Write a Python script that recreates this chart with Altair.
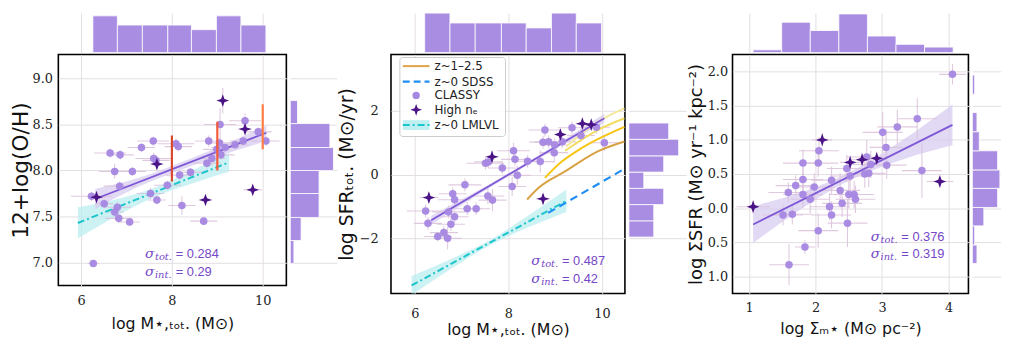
import altair as alt
import pandas as pd

# ---------------- Panel 1: 12+log(O/H) vs log M* ----------------
p1_cx = [6.27, 6.23, 6.51, 6.80, 6.74, 6.83, 7.07, 6.64, 6.86, 6.74, 7.13, 6.85, 7.33, 7.59, 7.60, 7.65, 7.53, 7.67, 7.90,
         8.09, 8.14, 8.17, 8.41, 8.22, 8.70, 8.77, 8.81, 8.88, 8.99, 9.05, 9.08, 9.06, 9.17, 9.39, 9.57, 9.61, 9.90, 10.07]
p1_cy = [6.99, 7.72, 7.64, 7.60, 7.55, 7.48, 7.44, 8.19, 8.17, 7.99, 7.99, 7.83, 8.25, 8.32, 8.13, 8.11, 7.75, 7.68, 7.84,
         8.29, 8.26, 7.95, 7.98, 7.62, 7.45, 8.08, 8.32, 8.13, 8.23, 8.30, 8.17, 8.50, 8.25, 8.28, 8.32, 8.54, 8.42, 8.32]
p1_cxe = [0.12, 0.45, 0.20, 0.30, 0.20, 0.30, 0.22, 0.35, 0.30, 0.35, 0.30, 0.35, 0.30, 0.35, 0.40, 0.30, 0.30, 0.20, 0.30,
          0.40, 0.30, 0.30, 0.30, 0.30, 0.30, 0.30, 0.30, 0.30, 0.30, 0.30, 0.30, 0.35, 0.30, 0.30, 0.30, 0.35, 0.30, 0.30]
p1_cye = [0.02, 0.05, 0.05, 0.06, 0.05, 0.05, 0.04, 0.05, 0.05, 0.08, 0.05, 0.05, 0.05, 0.05, 0.06, 0.05, 0.06, 0.05, 0.05,
          0.06, 0.05, 0.05, 0.05, 0.10, 0.04, 0.06, 0.06, 0.08, 0.05, 0.05, 0.05, 0.18, 0.05, 0.05, 0.05, 0.08, 0.05, 0.05]
p1_sx = [6.34, 7.67, 8.74, 9.12, 9.61, 9.78]
p1_sy = [7.71, 8.07, 7.68, 8.76, 8.45, 7.79]
p1_sxe = [0.20, 0.15, 0.15, 0.10, 0.15, 0.20]
p1_sye = [0.05, 0.05, 0.05, 0.14, 0.05, 0.04]
p1_fit_x = [6.31, 10.08]
p1_fit_y = [7.69, 8.41]
p1_band_x = [6.31, 7.2, 8.0, 9.0, 10.08]
p1_band_lo = [7.58, 7.81, 7.97, 8.15, 8.32]
p1_band_hi = [7.80, 7.91, 8.05, 8.25, 8.49]
p1_lml_x = [5.93, 9.26]
p1_lml_y = [7.43, 8.09]
p1_lmlb_x = [5.93, 6.8, 7.6, 8.4, 9.26]
p1_lmlb_lo = [7.26, 7.51, 7.71, 7.85, 7.99]
p1_lmlb_hi = [7.60, 7.69, 7.81, 7.99, 8.19]
p1_seg_x = [8.0, 9.0, 10.0]
p1_seg_lo = [7.88, 8.00, 8.23]
p1_seg_hi = [8.38, 8.53, 8.72]
p1_seg_col = ["#d9472c", "#f25b3a", "#ff7d45"]
p1_top_edges = [6.26, 6.80, 7.35, 7.91, 8.43, 8.98, 9.52, 10.07]
p1_top_counts = [8, 6, 6, 6, 5, 8, 6]
p1_right_edges = [6.99, 7.24, 7.49, 7.75, 8.00, 8.25, 8.51, 8.76]
p1_right_counts = [1, 3, 8, 8, 12, 11, 2]

# ---------------- Panel 2: SFR vs log M* ----------------
p2_cx = [6.23, 6.28, 6.49, 6.62, 6.70, 6.77, 6.72, 6.85, 6.81, 6.85, 7.07, 7.12, 7.31, 7.51, 7.57, 7.56, 7.66, 7.87,
         8.11, 8.14, 8.08, 8.19, 8.41, 8.68, 8.78, 8.74, 8.86, 8.98, 8.99, 9.15, 9.36, 9.55, 9.88, 10.05]
p2_cy = [-1.14, -1.53, -1.94, -1.82, -2.00, -1.56, -1.17, -1.32, -0.60, -0.79, -0.32, -1.07, -1.07, 0.36, 0.40, -0.67, -0.80, 0.21,
         0.75, 0.48, -0.37, -0.02, 0.42, 0.41, 1.40, 1.02, 1.03, 0.69, 0.93, 1.03, 1.47, 1.23, 1.49, 1.00]
p2_cxe = [0.40, 0.30, 0.30, 0.30, 0.30, 0.30, 0.35, 0.30, 0.30, 0.35, 0.35, 0.30, 0.30, 0.40, 0.30, 0.35, 0.30, 0.30,
          0.35, 0.30, 0.30, 0.30, 0.30, 0.30, 0.35, 0.30, 0.30, 0.30, 0.30, 0.30, 0.30, 0.30, 0.30, 0.30]
p2_cye = [0.20, 0.20, 0.15, 0.20, 0.35, 0.20, 0.20, 0.20, 0.20, 0.25, 0.20, 0.20, 0.20, 0.20, 0.20, 0.25, 0.35, 0.20,
          0.25, 0.20, 0.30, 0.30, 0.20, 0.35, 0.20, 0.20, 0.20, 0.30, 0.20, 0.20, 0.20, 0.20, 0.20, 0.25]
p2_sx = [6.30, 7.65, 8.74, 9.11, 9.58, 9.77]
p2_sy = [-0.72, 0.56, -0.76, 1.26, 1.60, 1.57]
p2_sxe = [0.20, 0.15, 0.15, 0.10, 0.15, 0.20]
p2_sye = [0.15, 0.20, 0.15, 0.15, 0.10, 0.10]
p2_fit_x = [6.35, 10.05]
p2_fit_y = [-1.43, 1.77]
p2_band_x = [6.35, 7.3, 8.2, 9.1, 10.05]
p2_band_lo = [-1.57, -0.68, 0.12, 0.88, 1.63]
p2_band_hi = [-1.29, -0.54, 0.22, 1.02, 1.91]
p2_lml_x = [5.93, 9.24]
p2_lml_y = [-3.48, -0.82]
p2_lmlb_x = [5.93, 6.8, 7.6, 8.4, 9.24]
p2_lmlb_lo = [-3.78, -2.93, -2.22, -1.67, -1.17]
p2_lmlb_hi = [-3.18, -2.63, -2.06, -1.31, -0.47]
p2_sdss_x = [8.85, 10.50]
p2_sdss_y = [-1.20, 0.20]
z12_a_x = [8.40, 8.64, 9.21, 9.91, 10.48]
z12_a_y = [-0.78, -0.42, 0.10, 0.73, 1.04]
z12_b_x = [8.78, 9.14, 9.56, 10.48]
z12_b_y = [-0.10, 0.41, 0.83, 1.50]
z12_c_x = [9.21, 9.91, 10.48]
z12_c_y = [0.75, 1.40, 1.77]
z12_d_x = [9.24, 9.91, 10.48]
z12_d_y = [0.88, 1.66, 2.08]
z12_cols = ["#d8a244", "#f8c414", "#f2dc62", "#f5e79a"]
p2_top_edges = [6.21, 6.75, 7.29, 7.85, 8.38, 8.92, 9.45, 9.99]
p2_top_counts = [8, 6, 6, 6, 5, 8, 6]
p2_right_edges = [-1.96, -1.45, -0.94, -0.43, 0.08, 0.59, 1.11, 1.62]
p2_right_counts = [5, 5, 7, 3, 7, 10, 8]
legend_labels = ["z~1\u20132.5", "z~0 SDSS", "CLASSY", "High n\u2091", "z~0 LMLVL"]

# ---------------- Panel 3: Sigma_SFR vs Sigma_M* ----------------
p3_cx = [4.06, 3.53, 3.23, 3.01, 3.06, 3.07, 3.60, 2.83, 2.77, 2.74, 2.80, 2.05, 2.04, 1.81, 1.81, 1.98, 1.70, 1.59, 1.81, 1.92,
         2.24, 2.37, 2.47, 2.52, 2.50, 2.58, 2.60, 2.40, 2.21, 2.24, 1.51, 1.65, 2.48, 2.04, 1.84, 1.60]
p3_cy = [1.96, 1.31, 1.19, 1.11, 0.89, 0.63, 0.55, 0.64, 0.75, 0.50, 0.51, 0.84, 0.66, 0.66, 0.42, 0.31, 0.33, 0.23, 0.20, 0.13,
         0.41, 0.26, 0.58, 0.47, 0.20, 0.20, 0.13, 0.07, 0.02, -0.10, -0.10, -0.09, -0.22, -0.33, -0.57, -0.83]
p3_cxe = [0.20, 0.30, 0.30, 0.30, 0.25, 0.30, 0.30, 0.30, 0.30, 0.30, 0.25, 0.30, 0.30, 0.30, 0.30, 0.30, 0.30, 0.30, 0.30, 0.30,
          0.30, 0.30, 0.30, 0.30, 0.30, 0.30, 0.30, 0.30, 0.30, 0.30, 0.30, 0.30, 0.30, 0.30, 0.15, 0.30]
p3_cye = [0.15, 0.30, 0.25, 0.30, 0.25, 0.20, 0.40, 0.20, 0.25, 0.20, 0.20, 0.20, 0.20, 0.20, 0.20, 0.20, 0.15, 0.15, 0.20, 0.20,
          0.20, 0.25, 0.20, 0.20, 0.20, 0.20, 0.20, 0.20, 0.20, 0.20, 0.15, 0.15, 0.35, 0.25, 0.10, 0.30]
p3_sx = [1.06, 2.10, 2.52, 2.70, 2.92, 3.87]
p3_sy = [0.02, 1.00, 0.67, 0.71, 0.73, 0.39]
p3_sxe = [0.25, 0.15, 0.15, 0.15, 0.15, 0.20]
p3_sye = [0.10, 0.10, 0.10, 0.10, 0.10, 0.10]
p3_fit_x = [1.06, 4.06]
p3_fit_y = [-0.24, 1.22]
p3_band_x = [1.06, 1.8, 2.5, 3.3, 4.06]
p3_band_lo = [-0.51, 0.00, 0.40, 0.71, 0.92]
p3_band_hi = [0.03, 0.24, 0.52, 0.99, 1.52]
p3_top_edges = [1.06, 1.49, 1.92, 2.35, 2.78, 3.21, 3.64, 4.07]
p3_top_counts = [1, 11, 8, 14, 6, 3, 2]
p3_right_edges = [-0.81, -0.54, -0.26, 0.01, 0.29, 0.56, 0.84, 1.12, 1.40, 1.67, 1.95]
p3_right_counts = [2, 1, 5, 11, 12, 11, 3, 2, 0, 1]

sig_tot = ["0.284", "0.487", "0.376"]
sig_int = ["0.29", "0.42", "0.319"]

# ---------------- styling ----------------
PURPLE = "#a587e2"
STARC = "#4a1386"
LINEC = "#7d57d6"
BANDC = "#d8ccf1"
CYAN = "#1cc4cb"
CYANB = "#b8edf0"
ERRC = "#dcc3dc"
GRIDC = "#e3dde3"
TXTC = "#7547c8"
SERIF = "DejaVu Serif"
SANS = "DejaVu Sans"
STAR_PATH = "M0,-1L0.26,-0.26L1,0L0.26,0.26L0,1L-0.26,0.26L-1,0L-0.26,-0.26Z"


def main_axis(values, title, lpad, tpad, tsize=16, fmt=None, expr=None):
    kw = dict(values=values, title=title, grid=True, gridColor=GRIDC, domain=False, ticks=False,
              labelFont=SERIF, labelFontSize=13, labelColor="#222", labelPadding=lpad,
              titleFont=SANS, titleFontSize=tsize, titleFontWeight="normal", titleColor="#111",
              titlePadding=tpad)
    if fmt:
        kw["format"] = fmt
    if expr:
        kw["labelExpr"] = expr
    return alt.Axis(**kw)


def grid_axis(values):
    return alt.Axis(values=values, grid=True, gridColor=GRIDC, labels=False, ticks=False,
                    domain=False, title=None)


def build_main(xsc, ysc, xax, yax, cx, cy, cxe, cye, sx, sy, sxe, sye,
               fit_x, fit_y, band_x, band_lo, band_hi, under, over, sig, W, H):
    def X(f):
        return alt.X(f, type="quantitative", scale=xsc, axis=xax)

    def Y(f):
        return alt.Y(f, type="quantitative", scale=ysc, axis=yax)

    layers = list(under)
    band = alt.Chart(pd.DataFrame({"x": band_x, "lo": band_lo, "hi": band_hi})).mark_area(
        color=BANDC, opacity=0.75, interpolate="monotone", clip=True).encode(x=X("x"), y=Y("lo"), y2="hi")
    layers.append(band)
    for xs, ys, xe, ye in [(cx, cy, cxe, cye), (sx, sy, sxe, sye)]:
        d = pd.DataFrame({"x": xs, "y": ys, "xe": xe, "ye": ye})
        b = alt.Chart(d).transform_calculate(
            x0="datum.x - datum.xe", x1="datum.x + datum.xe",
            y0="datum.y - datum.ye", y1="datum.y + datum.ye")
        layers.append(b.mark_rule(color=ERRC, strokeWidth=1.1, opacity=0.9, clip=True)
                      .encode(x=X("x0"), x2="x1", y=Y("y")))
        layers.append(b.mark_rule(color=ERRC, strokeWidth=1.1, opacity=0.9, clip=True)
                      .encode(x=X("x"), y=Y("y0"), y2="y1"))
    layers.extend(over[0])
    fit = alt.Chart(pd.DataFrame({"x": fit_x, "y": fit_y})).mark_line(
        color=LINEC, strokeWidth=1.8, clip=True).encode(x=X("x"), y=Y("y"))
    layers.append(fit)
    pts = alt.Chart(pd.DataFrame({"x": cx, "y": cy})).mark_point(
        filled=True, shape="circle", size=58, color=PURPLE, opacity=0.95, clip=True).encode(x=X("x"), y=Y("y"))
    layers.append(pts)
    layers.extend(over[1])
    stars = alt.Chart(pd.DataFrame({"x": sx, "y": sy})).mark_point(
        filled=True, shape=STAR_PATH, size=165, color=STARC, opacity=1, clip=True).encode(x=X("x"), y=Y("y"))
    layers.append(stars)
    # sigma annotations
    (ax1, ay1), (ax2, ay2), tot, inte = sig
    for (ax, ay, sub, val) in [(ax1, ay1, "tot.", tot), (ax2, ay2, "int.", inte)]:
        b = alt.Chart(pd.DataFrame({"x": [ax], "y": [ay]}))
        layers.append(b.mark_text(text="\u03c3", font=SERIF, fontStyle="italic", fontSize=14, align="left",
                                  baseline="middle", color=TXTC).encode(x=X("x"), y=Y("y")))
        layers.append(b.mark_text(text=sub, font=SERIF, fontStyle="italic", fontSize=10, align="left",
                                  baseline="middle", dx=10, dy=3, color=TXTC).encode(x=X("x"), y=Y("y")))
        layers.append(b.mark_text(text="= " + val, font="Liberation Sans", fontSize=13, align="left",
                                  baseline="middle", dx=31, color=TXTC).encode(x=X("x"), y=Y("y")))
    layers.extend(over[2])
    return alt.layer(*layers).properties(width=W, height=H,
                                          view=alt.ViewBackground(stroke="black", strokeWidth=1.6))


def top_hist(edges, counts, xsc, xvals, dmax, W, H):
    d = pd.DataFrame({"lo": edges[:-1], "hi": edges[1:], "n": counts, "z": [0] * len(counts)})
    return alt.Chart(d).mark_rect(color=PURPLE, stroke="white", strokeWidth=0.8, opacity=0.95).encode(
        x=alt.X("lo:Q", scale=xsc, axis=grid_axis(xvals)), x2="hi:Q",
        y=alt.Y("z:Q", scale=alt.Scale(domain=[0, dmax]), axis=None), y2="n:Q"
    ).properties(width=W, height=H)


def right_hist(edges, counts, ysc, yvals, dmax, W, H):
    d = pd.DataFrame({"lo": edges[:-1], "hi": edges[1:], "n": counts, "z": [0] * len(counts)})
    return alt.Chart(d).mark_rect(color=PURPLE, stroke="white", strokeWidth=0.8, opacity=0.95).encode(
        y=alt.Y("lo:Q", scale=ysc, axis=grid_axis(yvals)), y2="hi:Q",
        x=alt.X("z:Q", scale=alt.Scale(domain=[0, dmax]), axis=None), x2="n:Q"
    ).properties(width=W, height=H)


def blank(W, H):
    return alt.Chart(pd.DataFrame({"a": [0]})).mark_point(opacity=0).encode(
        x=alt.value(0), y=alt.value(0)).properties(width=W, height=H)


HT = 40
W1, H1, W2, H2, W3, H3 = 231, 234, 237, 242, 239, 242
WR1, WR2, WR3 = 47, 58, 29

# ---- panel 1 ----
xs1 = alt.Scale(domain=[5.5, 10.52], nice=False, zero=False)
ys1 = alt.Scale(domain=[6.75, 9.26], nice=False, zero=False)
xa1 = main_axis([6, 8, 10], "log M\u22c6,\u209c\u2092\u209c. (M\u2299)", 9, 9)
ya1 = main_axis([7.0, 7.5, 8.0, 8.5, 9.0], "12+log(O/H)", 6, 0, tsize=22, fmt=".1f")


def X1(f):
    return alt.X(f, type="quantitative", scale=xs1, axis=xa1)


def Y1(f):
    return alt.Y(f, type="quantitative", scale=ys1, axis=ya1)


p1_under = [
    alt.Chart(pd.DataFrame({"x": p1_lmlb_x, "lo": p1_lmlb_lo, "hi": p1_lmlb_hi})).mark_area(
        color=CYANB, opacity=0.7, interpolate="monotone", clip=True).encode(x=X1("x"), y=Y1("lo"), y2="hi"),
]
p1_mid = [
    alt.Chart(pd.DataFrame({"x": p1_lml_x, "y": p1_lml_y})).mark_line(
        color=CYAN, strokeWidth=2, strokeDash=[7, 3, 2, 3], clip=True).encode(x=X1("x"), y=Y1("y")),
]
p1_after_pts = [
    alt.Chart(pd.DataFrame({"x": p1_seg_x, "lo": p1_seg_lo, "hi": p1_seg_hi, "c": p1_seg_col})).mark_rule(
        strokeWidth=2.2, clip=True).encode(x=X1("x"), y=Y1("lo"), y2="hi",
                                           color=alt.Color("c:N", scale=None, legend=None)),
]
main1 = build_main(xs1, ys1, xa1, ya1, p1_cx, p1_cy, p1_cxe, p1_cye, p1_sx, p1_sy, p1_sxe, p1_sye,
                   p1_fit_x, p1_fit_y, p1_band_x, p1_band_lo, p1_band_hi,
                   p1_under, [p1_mid, p1_after_pts, []],
                   ((7.41, 7.094), (7.41, 6.90), sig_tot[0], sig_int[0]), W1, H1)
top1 = top_hist(p1_top_edges, p1_top_counts, xs1, [6, 8, 10], 8.6, W1, HT)
right1 = right_hist(p1_right_edges, p1_right_counts, ys1, [7.0, 7.5, 8.0, 8.5, 9.0], 12.9, WR1, H1)

# ---- panel 2 ----
xs2 = alt.Scale(domain=[5.49, 10.49], nice=False, zero=False)
ys2 = alt.Scale(domain=[-3.73, 3.77], nice=False, zero=False)
xa2 = main_axis([6, 8, 10], "log M\u22c6,\u209c\u2092\u209c. (M\u2299)", 14, 2)
ya2 = main_axis([-2, 0, 2], "log SFR\u209c\u2092\u209c. (M\u2299/yr)", 13, 3, tsize=19, fmt="d")


def X2(f):
    return alt.X(f, type="quantitative", scale=xs2, axis=xa2)


def Y2(f):
    return alt.Y(f, type="quantitative", scale=ys2, axis=ya2)


p2_under = [
    alt.Chart(pd.DataFrame({"x": p2_lmlb_x, "lo": p2_lmlb_lo, "hi": p2_lmlb_hi})).mark_area(
        color=CYANB, opacity=0.7, interpolate="monotone", clip=True).encode(x=X2("x"), y=Y2("lo"), y2="hi"),
]
p2_mid = []
for cxs, cys, col in [(z12_a_x, z12_a_y, z12_cols[0]), (z12_b_x, z12_b_y, z12_cols[1]),
                      (z12_c_x, z12_c_y, z12_cols[2]), (z12_d_x, z12_d_y, z12_cols[3])]:
    p2_mid.append(alt.Chart(pd.DataFrame({"x": cxs, "y": cys})).mark_line(
        color=col, strokeWidth=2, interpolate="monotone", clip=True).encode(x=X2("x"), y=Y2("y")))
p2_mid.append(alt.Chart(pd.DataFrame({"x": p2_sdss_x, "y": p2_sdss_y})).mark_line(
    color="#1f8ef5", strokeWidth=2.2, strokeDash=[8, 5], clip=True).encode(x=X2("x"), y=Y2("y")))
p2_mid.append(alt.Chart(pd.DataFrame({"x": p2_lml_x, "y": p2_lml_y})).mark_line(
    color=CYAN, strokeWidth=2, strokeDash=[7, 3, 2, 3], clip=True).encode(x=X2("x"), y=Y2("y")))

# legend (drawn inside the SFR panel)
one = pd.DataFrame({"a": [0]})
LX0, LX1, LTX = 12, 39, 44
row_y = [11.7, 27.4, 41.4, 56.0, 71.4]
leg = [
    alt.Chart(one).mark_rect(fill="white", stroke="#c8c8c8", strokeWidth=1, cornerRadius=3, opacity=0.92).encode(
        x=alt.value(9), x2=alt.value(116), y=alt.value(3), y2=alt.value(83)),
    alt.Chart(one).mark_rule(color="#e0a448", strokeWidth=2).encode(
        x=alt.value(LX0), x2=alt.value(LX1), y=alt.value(row_y[0])),
    alt.Chart(one).mark_rule(color="#1f8ef5", strokeWidth=2.2, strokeDash=[7, 4]).encode(
        x=alt.value(LX0), x2=alt.value(LX1), y=alt.value(row_y[1])),
    alt.Chart(one).mark_point(filled=True, shape="circle", size=55, color=PURPLE, opacity=1).encode(
        x=alt.value((LX0 + LX1) / 2), y=alt.value(row_y[2])),
    alt.Chart(one).mark_point(filled=True, shape=STAR_PATH, size=140, color=STARC, opacity=1).encode(
        x=alt.value((LX0 + LX1) / 2), y=alt.value(row_y[3])),
    alt.Chart(one).mark_rect(fill=CYANB, opacity=0.9).encode(
        x=alt.value(LX0), x2=alt.value(LX1), y=alt.value(row_y[4] - 5), y2=alt.value(row_y[4] + 5)),
    alt.Chart(one).mark_rule(color=CYAN, strokeWidth=2, strokeDash=[7, 3, 2, 3]).encode(
        x=alt.value(LX0), x2=alt.value(LX1), y=alt.value(row_y[4])),
]
for lab, yy in zip(legend_labels, row_y):
    leg.append(alt.Chart(one).mark_text(text=lab, font=SANS, fontSize=12, align="left", baseline="middle",
                                        color="#222").encode(x=alt.value(LTX), y=alt.value(yy)))

main2 = build_main(xs2, ys2, xa2, ya2, p2_cx, p2_cy, p2_cxe, p2_cye, p2_sx, p2_sy, p2_sxe, p2_sye,
                   p2_fit_x, p2_fit_y, p2_band_x, p2_band_lo, p2_band_hi,
                   p2_under, [p2_mid, [], leg],
                   ((8.49, -2.72), (8.49, -3.27), sig_tot[1], sig_int[1]), W2, H2)
top2 = top_hist(p2_top_edges, p2_top_counts, xs2, [6, 8, 10], 8.0, W2, HT)
right2 = right_hist(p2_right_edges, p2_right_counts, ys2, [-2, 0, 2], 11.5, WR2, H2)

# ---- panel 3 ----
xs3 = alt.Scale(domain=[0.75, 4.30], nice=False, zero=False)
ys3 = alt.Scale(domain=[-1.25, 2.25], nice=False, zero=False)
xa3 = main_axis([1, 2, 3, 4], "log \u03a3\u2098\u22c6 (M\u2299 pc\u207b\u00b2)", 8, 7)
ya3 = main_axis([-1.0, -0.5, 0.0, 0.5, 1.0, 1.5, 2.0], "log \u03a3SFR (M\u2299 yr\u207b\u00b9 kpc\u207b\u00b2)", 5, 2,
                tsize=18, expr="format(abs(datum.value), '.1f')")
main3 = build_main(xs3, ys3, xa3, ya3, p3_cx, p3_cy, p3_cxe, p3_cye, p3_sx, p3_sy, p3_sxe, p3_sye,
                   p3_fit_x, p3_fit_y, p3_band_x, p3_band_lo, p3_band_hi,
                   [], [[], [], []],
                   ((2.83, -0.42), (2.83, -0.68), sig_tot[2], sig_int[2]), W3, H3)
top3 = top_hist(p3_top_edges, p3_top_counts, xs3, [1, 2, 3, 4], 14.3, W3, HT)
right3 = right_hist(p3_right_edges, p3_right_counts, ys3, [-1.0, -0.5, 0.0, 0.5, 1.0, 1.5, 2.0], 12.5, WR3, H3)

chart = alt.concat(
    top1, blank(WR1, HT), top2, blank(WR2, HT), top3, blank(WR3, HT),
    main1, right1, main2, right2, main3, right3,
    columns=6, spacing=0
).properties(padding={"left": 0, "top": 0, "right": 0, "bottom": 0}).configure_view(stroke=None)

chart.save("out.html", embed_options={"renderer": "svg", "actions": False})
